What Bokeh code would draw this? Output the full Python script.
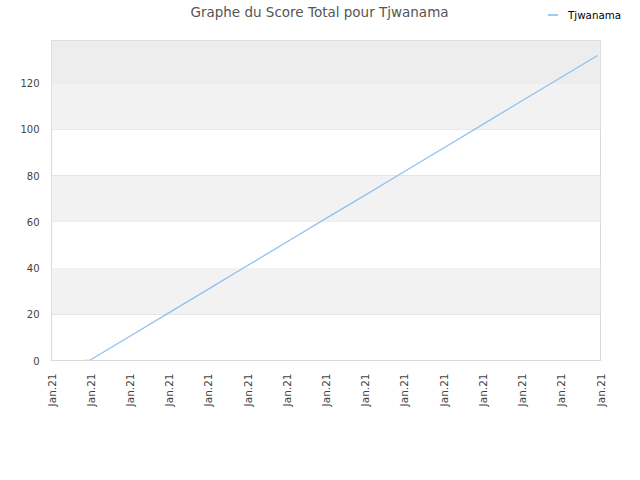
import math
import pandas as pd
from bokeh.plotting import figure
from bokeh.layouts import column
from bokeh.models import Range1d, FixedTicker, DatetimeTickFormatter, BoxAnnotation, Div
from bokeh.embed import file_html
from bokeh.resources import INLINE

# ---- data ----
series_name = "Tjwanama"
title_text = "Graphe du Score Total pour Tjwanama"
dates = ["2021-01-02 16:00", "2021-01-02 22:30", "2021-01-03 00:00", "2021-01-05 00:00",
         "2021-01-07 00:00", "2021-01-09 00:00", "2021-01-11 00:00", "2021-01-13 00:00",
         "2021-01-15 00:00", "2021-01-17 00:00", "2021-01-19 00:00", "2021-01-21 00:00",
         "2021-01-23 00:00", "2021-01-25 00:00", "2021-01-27 00:00", "2021-01-28 20:20"]
scores = [0, 0, 0.3, 10.5, 20.7, 30.9, 41.1, 51.3, 61.5, 71.6, 81.8, 92.0,
          102.2, 112.4, 122.6, 132.0]
tick_dates = ["2021-01-%02d" % d for d in range(1, 30, 2)]
y_ticks = [0, 20, 40, 60, 80, 100, 120]
y_max = 138.5

LINE_COLOR = "#8fc1f2"
W = 632

x = pd.to_datetime(dates)
tick_ms = [pd.Timestamp(t).value / 1e6 for t in tick_dates]

# ---- header: title + legend ----
header_html = (
    '<div style="position:relative;width:%dpx;height:40px;font-family:\'DejaVu Sans\';">'
    '<span style="position:absolute;left:0;width:639px;top:3px;text-align:center;'
    'font-size:13.5px;color:#555555;white-space:nowrap;">%s</span>'
    '<span style="position:absolute;left:548px;top:14px;width:10px;height:0;'
    'border-top:2px solid #a0cbf5;"></span>'
    '<span style="position:absolute;left:568px;top:8px;font-size:10.3px;color:#000;'
    'white-space:nowrap;">%s</span>'
    '</div>' % (W, title_text, series_name)
)
head = Div(text=header_html, width=W, height=40, margin=0)

# ---- main chart ----
p = figure(width=W, height=432, x_axis_type="datetime", output_backend="svg",
           toolbar_location=None,
           x_range=Range1d(pd.Timestamp(tick_dates[0]), pd.Timestamp(tick_dates[-1])),
           y_range=Range1d(0, y_max),
           min_border_left=51, min_border_right=32, min_border_top=0, min_border_bottom=112)
p.background_fill_color = "white"
p.border_fill_color = "white"
p.outline_line_color = "#d9d9d9"

# alternating bands
for lo, hi, col in [(20, 40, "#f2f2f2"), (60, 80, "#f2f2f2"), (100, 120, "#f2f2f2"),
                    (120, None, "#ededed")]:
    p.add_layout(BoxAnnotation(bottom=lo, top=hi, fill_color=col, fill_alpha=1,
                               line_color=None, level="underlay"))

p.xgrid.grid_line_color = None
p.ygrid.grid_line_color = "#e0e0e0"
p.ygrid.ticker = FixedTicker(ticks=y_ticks)

p.line(x, scores, line_color=LINE_COLOR, line_width=1.3, legend_label=series_name)
p.legend.visible = False

p.yaxis.ticker = FixedTicker(ticks=y_ticks)
p.yaxis.axis_line_color = None
p.yaxis.major_tick_line_color = None
p.yaxis.minor_tick_line_color = None
p.yaxis.major_tick_out = 0
p.yaxis.major_label_standoff = 12
p.yaxis.major_label_text_font = "DejaVu Sans"
p.yaxis.major_label_text_font_size = "10px"
p.yaxis.major_label_text_color = "#444444"

p.xaxis.ticker = FixedTicker(ticks=tick_ms)
fmt = "%b.%y"
p.xaxis.formatter = DatetimeTickFormatter(microseconds=fmt, milliseconds=fmt, seconds=fmt,
                                          minsec=fmt, minutes=fmt, hourmin=fmt, hours=fmt,
                                          days=fmt, months=fmt, years=fmt)
p.xaxis.axis_line_color = "#d9d9d9"
p.xaxis.major_tick_line_color = None
p.xaxis.minor_tick_line_color = None
p.xaxis.major_tick_out = 0
p.xaxis.major_label_standoff = 13
p.xaxis.major_label_orientation = math.pi / 2
p.xaxis.major_label_text_font = "DejaVu Sans"
p.xaxis.major_label_text_font_size = "10.5px"
p.xaxis.major_label_text_color = "#444444"

layout = column(head, p, spacing=0)
open("out.html", "w").write(file_html(layout, INLINE))
